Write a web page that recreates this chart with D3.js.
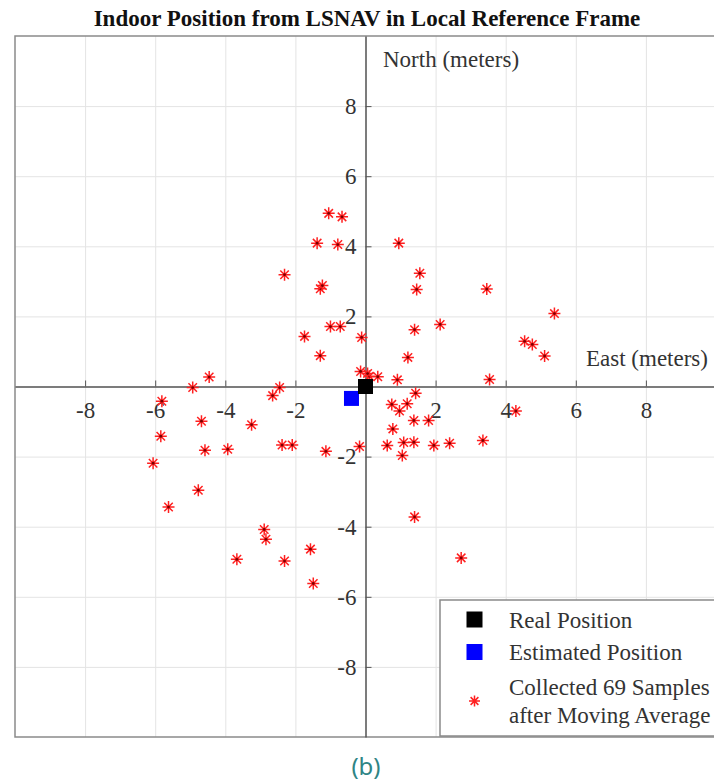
<!DOCTYPE html>
<html lang="en">
<head>
    <meta charset="UTF-8">
    <title>Indoor Position from LSNAV</title>
    <script src="https://d3js.org/d3.v7.min.js"></script>
    <style>
        body { margin: 0; background: #fff; }
        .grid line { stroke: #e4e4e4; stroke-width: 1; }
        .grid path { display: none; }
        .axis path, .axis line { stroke: #555; }
        .axis text { font-family: "Liberation Serif", serif; font-size: 23px; fill: #333; }
        .lbl { font-family: "Liberation Serif", serif; font-size: 23px; fill: #333; }
    </style>
</head>
<body>
<div id="chart"></div>
<script>
    // samples (meters)
    var sampleEast = [-1.05, -0.67, -1.38, -0.79, -2.31, -1.29, -1.23, -1.00, -0.72, -0.11,
                      -1.74, -1.29, -0.14, -4.46, -4.93, -2.45, 0.95, 1.55, 1.46, 3.46,
                      5.39, 2.13, 1.40, 4.54, 4.76, 5.11, 1.21, 0.11, 0.35, 0.91,
                      3.54, 1.43, -2.65, -5.81, -4.68, -3.25, -5.84, -4.58, -3.93, -2.38,
                      -2.09, -1.13, -0.17, -6.06, -4.77, -5.62, -2.89, -2.84, -1.57, -3.67,
                      -2.31, 0.75, 1.19, 0.97, 1.38, 1.80, 4.29, 0.78, 0.62, 1.09,
                      1.38, 1.95, 2.40, 3.35, 1.05, 1.40, 2.73, -1.49, 0.06];
    var sampleNorth = [4.94, 4.84, 4.09, 4.05, 3.19, 2.79, 2.88, 1.71, 1.71, 1.40,
                       1.43, 0.88, 0.43, 0.27, -0.03, -0.03, 4.09, 3.23, 2.77, 2.78,
                       2.08, 1.77, 1.62, 1.29, 1.20, 0.87, 0.83, 0.29, 0.28, 0.19,
                       0.20, -0.19, -0.26, -0.42, -0.99, -1.09, -1.42, -1.82, -1.79, -1.67,
                       -1.67, -1.85, -1.71, -2.19, -2.96, -3.44, -4.08, -4.36, -4.64, -4.93,
                       -4.98, -0.51, -0.49, -0.70, -0.97, -0.97, -0.70, -1.21, -1.68, -1.60,
                       -1.59, -1.68, -1.62, -1.54, -1.97, -3.72, -4.89, -5.62, 0.37];
    var realPos = [0, 0];
    var estPos = [-0.40, -0.34];
    var tickVals = [-8, -6, -4, -2, 2, 4, 6, 8];
    var gridVals = [-8, -6, -4, -2, 0, 2, 4, 6, 8];
    var legendLabels = [["Real Position"], ["Estimated Position"], ["Collected 69 Samples", "after Moving Average"]];

    var W = 714, H = 782;
    var mLeft = 15, mTop = 36, mRight = 716, mBottom = 737;

    var x = d3.scaleLinear().domain([-10, 10]).range([mLeft, mRight]);
    var y = d3.scaleLinear().domain([-10, 10]).range([mBottom, mTop]);

    var svg = d3.select("#chart").append("svg")
        .attr("width", W)
        .attr("height", H);

    svg.append("text")
        .attr("x", 367)
        .attr("y", 26)
        .attr("text-anchor", "middle")
        .style("font-family", "Liberation Serif, serif")
        .style("font-weight", "bold")
        .style("font-size", "23px")
        .attr("fill", "#111")
        .text("Indoor Position from LSNAV in Local Reference Frame");

    // grid
    svg.append("g")
        .attr("class", "grid")
        .attr("transform", "translate(0," + mBottom + ")")
        .call(d3.axisBottom(x).tickValues(gridVals).tickSize(-(mBottom - mTop)).tickFormat(""));
    svg.append("g")
        .attr("class", "grid")
        .attr("transform", "translate(" + mLeft + ",0)")
        .call(d3.axisLeft(y).tickValues(gridVals).tickSize(-(mRight - mLeft)).tickFormat(""));

    // frame (right side falls outside the picture)
    svg.append("rect")
        .attr("x", mLeft)
        .attr("y", mTop)
        .attr("width", mRight - mLeft)
        .attr("height", mBottom - mTop)
        .attr("fill", "none")
        .attr("stroke", "#8a8a8a")
        .attr("stroke-width", 1.5);

    // axes through origin
    var xAxis = svg.append("g")
        .attr("class", "axis")
        .attr("transform", "translate(0," + y(0) + ")")
        .call(d3.axisBottom(x).tickValues(tickVals).tickFormat(d => String(d))
            .tickSizeInner(-6).tickSizeOuter(0).tickPadding(15));
    xAxis.select(".domain").attr("stroke-width", 1.5);

    var yAxis = svg.append("g")
        .attr("class", "axis")
        .attr("transform", "translate(" + x(0) + ",0)")
        .call(d3.axisLeft(y).tickValues(tickVals).tickFormat(d => String(d))
            .tickSizeInner(-6).tickSizeOuter(0).tickPadding(9));
    yAxis.select(".domain").attr("stroke-width", 1.5);

    svg.append("text")
        .attr("class", "lbl")
        .attr("x", 383)
        .attr("y", 67)
        .text("North (meters)");
    svg.append("text")
        .attr("class", "lbl")
        .attr("x", 586)
        .attr("y", 366)
        .text("East (meters)");

    // asterisk marker, like matlab '*'
    function star(r) {
        var d = r * Math.SQRT1_2;
        return "M" + -r + ",0L" + r + ",0M0," + -r + "L0," + r +
               "M" + -d + "," + -d + "L" + d + "," + d +
               "M" + -d + "," + d + "L" + d + "," + -d;
    }

    var samples = sampleEast.map(function(e, i) { return [e, sampleNorth[i]]; });

    var pts = svg.append("g").selectAll("g")
        .data(samples)
        .enter()
        .append("g")
        .attr("transform", d => "translate(" + x(d[0]) + "," + y(d[1]) + ")");
    pts.append("path")
        .attr("d", star(6))
        .attr("stroke", "#ff2020")
        .attr("stroke-width", 1.5)
        .attr("fill", "none");
    pts.append("circle")
        .attr("r", 1.4)
        .attr("fill", "#7a0000");

    var sq = 15;
    svg.append("rect")
        .attr("x", x(estPos[0]) - sq / 2)
        .attr("y", y(estPos[1]) - sq / 2)
        .attr("width", sq)
        .attr("height", sq)
        .attr("fill", "#0000ff");
    svg.append("rect")
        .attr("x", x(realPos[0]) - sq / 2)
        .attr("y", y(realPos[1]) - sq / 2)
        .attr("width", sq)
        .attr("height", sq)
        .attr("fill", "#000");

    // legend
    var lg = svg.append("g").attr("transform", "translate(440,600)");
    lg.append("rect")
        .attr("width", 290)
        .attr("height", 136)
        .attr("fill", "#fff")
        .attr("stroke", "#8a8a8a")
        .attr("stroke-width", 1.5);

    var rowY = [19.5, 52, 101];
    lg.append("rect").attr("x", 26.5).attr("y", rowY[0] - 8).attr("width", 16).attr("height", 16).attr("fill", "#000");
    lg.append("rect").attr("x", 26.5).attr("y", rowY[1] - 8).attr("width", 16).attr("height", 16).attr("fill", "#0000ff");
    lg.append("path")
        .attr("transform", "translate(34.5," + rowY[2] + ")")
        .attr("d", star(5.5))
        .attr("stroke", "#ff2020")
        .attr("stroke-width", 1.5);

    legendLabels.forEach(function(lines, i) {
        var t = lg.append("text")
            .attr("class", "lbl")
            .attr("x", 69)
            .attr("y", rowY[i] + 8 - (lines.length - 1) * 14);
        lines.forEach(function(s, j) {
            t.append("tspan").attr("x", 69).attr("dy", j ? 28 : 0).text(s);
        });
    });

    svg.append("text")
        .attr("x", 366)
        .attr("y", 775)
        .attr("text-anchor", "middle")
        .style("font-family", "Noto Sans, sans-serif")
        .style("font-size", "24px")
        .attr("fill", "#2f8585")
        .text("(b)");
</script>
</body>
</html>
